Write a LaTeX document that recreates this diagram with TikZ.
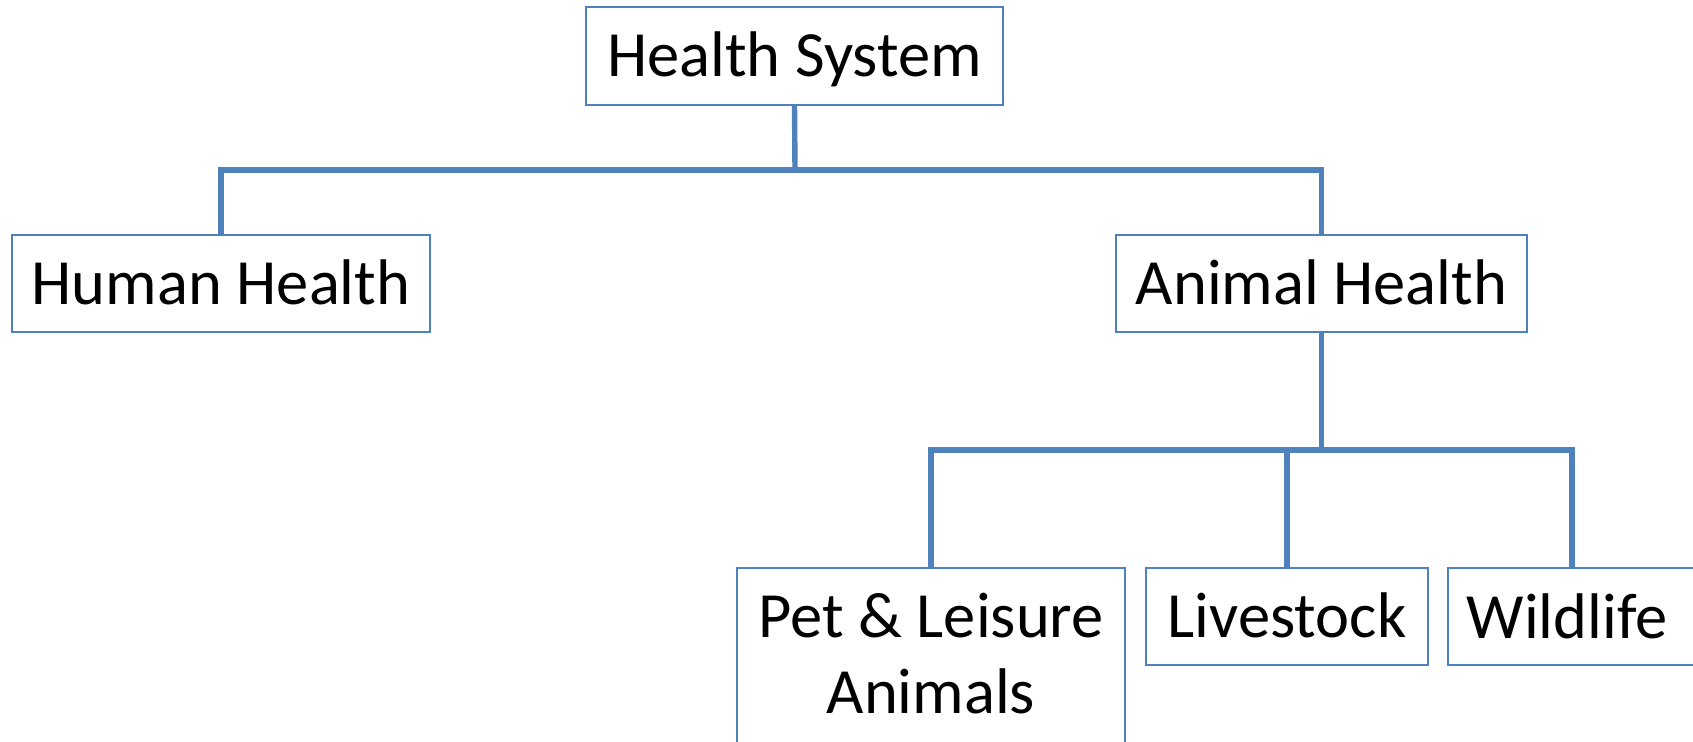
\documentclass[tikz,border=0pt]{standalone}
\usepackage{fontspec}
\setmainfont{Carlito}
\definecolor{boxblue}{RGB}{79,129,189}
\begin{document}
\begin{tikzpicture}[x=1pt,y=-1pt,
  box/.style={draw=boxblue,line width=1.8pt,fill=white,rectangle,inner sep=0pt,
    font=\fontsize{64.5}{76}\selectfont,text height=41pt,text depth=0pt},
  lbl/.style={inner sep=0pt,font=\fontsize{64.5}{76}\selectfont,align=center},
  conn/.style={draw=boxblue,line width=5.4pt}]
\useasboundingbox (0,0) rectangle (1693,741);
\clip (0,0) rectangle (1693,741);
\fill[white] (0,0) rectangle (1693,741);
% nodes
\node[box,minimum width=417pt,minimum height=98pt] (hs) at (794.5,56) {Health System};
\node[box,minimum width=418pt,minimum height=97pt] (hh) at (221,283.5) {Human Health};
\node[box,minimum width=411pt,minimum height=97pt] (ah) at (1321.5,283.5) {Animal Health};
\node[box,minimum width=388pt,minimum height=190pt] (pet) at (931,663) {};
\node[lbl,anchor=base] (petA) at (931,637) {Pet \& Leisure};
\node[lbl,anchor=base] (petB) at (931,713) {Animals};
\node[box,minimum width=282pt,minimum height=97pt] (ls) at (1287,616.5) {Livestock};
\node[box,minimum width=248pt,minimum height=97pt] (wl) at (1572,616.5) {};
\node[lbl] (wlt) at (1567,616.5) {\vphantom{H}Wildlife};
% junctions
\coordinate (j1) at (795,170);
\coordinate (j2) at (1321.5,450);
% connectors
\draw[conn] (hs.south) -- (j1);
\draw[conn] (hh.north) |- (j1) -| (ah.north);
\draw[conn] (ah.south) -- (j2);
\draw[conn] (pet.north) |- (j2) -| (wl.north);
\draw[conn] (ls.north) -- (ls.north |- j2);
\end{tikzpicture}
\end{document}
